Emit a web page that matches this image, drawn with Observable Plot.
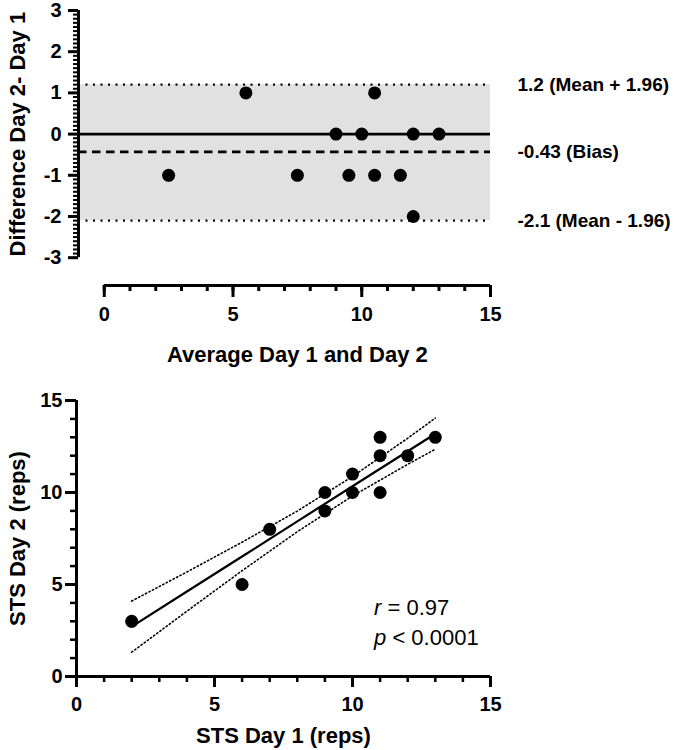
<!DOCTYPE html>
<html>
<head>
<meta charset="utf-8">
<script src="https://cdn.jsdelivr.net/npm/d3@7"></script>
<script src="https://cdn.jsdelivr.net/npm/@observablehq/plot@0.6"></script>
<style>
  html, body { margin: 0; padding: 0; background: #fff; }
  #wrap { width: 680px; }
  svg { display: block; }
</style>
</head>
<body>
<div id="wrap"></div>
<script>
// ---- Bland-Altman data (top) ----
const baAverage    = [2.5, 5.5, 7.5, 9, 9.5, 10, 10.5, 10.5, 11.5, 12, 12, 13];
const baDifference = [-1, 1, -1, 0, -1, 0, 1, -1, -1, 0, -2, 0];
const upperLoA = 1.2;
const biasValue = -0.43;
const lowerLoA = -2.1;
const loaValues = [upperLoA, biasValue, lowerLoA];
const loaLabels = ["1.2 (Mean + 1.96)", "-0.43 (Bias)", "-2.1 (Mean - 1.96)"];
const baXTicks = [0, 5, 10, 15];
const baYTicks = [-3, -2, -1, 0, 1, 2, 3];
const baXTitle = "Average Day 1 and Day 2";
const baYTitle = "Difference Day 2- Day 1";

// ---- Correlation data (bottom) ----
const day1 = [2, 6, 7, 9, 9, 10, 10, 11, 11, 11, 12, 13];
const day2 = [3, 5, 8, 10, 9, 11, 10, 13, 12, 10, 12, 13];
const fitX     = [2, 4, 6, 8, 10, 12, 13];
const fitY     = [2.71, 4.62, 6.52, 8.43, 10.34, 12.24, 13.19];
const ciUpper  = [4.10, 5.68, 7.30, 8.99, 10.87, 12.95, 14.04];
const ciLower  = [1.32, 3.55, 5.75, 7.87, 9.81, 11.53, 12.35];
const scTicks = [0, 5, 10, 15];
const scXTitle = "STS Day 1 (reps)";
const scYTitle = "STS Day 2 (reps)";
const statSymbols = ["r", "p"];
const statRest = [" = 0.97", " < 0.0001"];

const FONT = "'Liberation Sans', Arial, Helvetica, sans-serif";
const intFormat = d => String(d);

// ---------- top chart ----------
const baPoints = baAverage.map((a, i) => ({avg: a, diff: baDifference[i]}));
const baXDomain = [-1, 15];
const baYDomain = [-3.675, 3];
const baYMinor = d3.range(-30, 31).map(v => v / 10);
const baXMinor = d3.range(0, 16);

const topChart = Plot.plot({
  width: 680, height: 375,
  marginLeft: 78, marginRight: 190, marginTop: 10, marginBottom: 90,
  style: {fontFamily: FONT, fontWeight: "bold", color: "#000", background: "#fff"},
  x: {domain: baXDomain},
  y: {domain: baYDomain},
  marks: [
    Plot.rect([{lo: lowerLoA, hi: upperLoA}], {x1: baXDomain[0], x2: baXDomain[1], y1: "lo", y2: "hi", fill: "#e1e1e1"}),
    Plot.ruleY([upperLoA, lowerLoA], {stroke: "#000", strokeWidth: 2.2, strokeDasharray: "2,5.5"}),
    Plot.ruleY([0], {stroke: "#000", strokeWidth: 2.8}),
    Plot.ruleY([biasValue], {stroke: "#000", strokeWidth: 2.8, strokeDasharray: "8.5,5.5"}),
    Plot.dot(baPoints, {x: "avg", y: "diff", r: 6.5, fill: "#000", stroke: null}),
    // y axis
    Plot.ruleX([baXDomain[0]], {y1: baYTicks[0], y2: baYTicks[baYTicks.length - 1], stroke: "#000", strokeWidth: 3}),
    Plot.axisY({ticks: baYMinor, tickSize: 5, strokeWidth: 2, tickFormat: () => "", label: null}),
    Plot.axisY({ticks: baYTicks, tickSize: 10, tickPadding: 7, strokeWidth: 3, tickFormat: intFormat, fontSize: 20, fontWeight: "bold", label: null}),
    // x axis (offset)
    Plot.ruleY([baYDomain[0]], {x1: baXTicks[0], x2: baXTicks[baXTicks.length - 1], stroke: "#000", strokeWidth: 3}),
    Plot.axisX({ticks: baXMinor, tickSize: 6, strokeWidth: 3, tickFormat: () => "", label: null}),
    Plot.axisX({ticks: baXTicks, tickSize: 12, tickPadding: 9, strokeWidth: 3, tickFormat: intFormat, fontSize: 20, fontWeight: "bold", label: null}),
    // titles
    Plot.text([baXTitle], {x: d3.mean(baXTicks), frameAnchor: "bottom", dy: 76, fontSize: 22, fontWeight: "bold", fill: "#000"}),
    Plot.text([baYTitle], {x: baXDomain[0], y: d3.mean(baYTicks), dx: -61, rotate: -90, fontSize: 22, fontWeight: "bold", fill: "#000"}),
    // limit labels
    Plot.text(loaValues, {x: baXDomain[1], y: d => d, dx: 27, text: (d, i) => loaLabels[i], textAnchor: "start", fontSize: 19, fontWeight: "bold", fill: "#000"})
  ]
});

// ---------- bottom chart ----------
const scPoints = day1.map((d, i) => ({d1: d, d2: day2[i]}));
const fitRows = fitX.map((x, i) => ({x, y: fitY[i], up: ciUpper[i], lo: ciLower[i]}));
const scMinor = d3.range(0, 16);

const bottomChart = Plot.plot({
  width: 680, height: 375,
  marginLeft: 76, marginRight: 190, marginTop: 25, marginBottom: 74,
  style: {fontFamily: FONT, fontWeight: "bold", color: "#000", background: "#fff"},
  x: {domain: [scTicks[0], scTicks[scTicks.length - 1]]},
  y: {domain: [scTicks[0], scTicks[scTicks.length - 1]]},
  marks: [
    Plot.line(fitRows, {x: "x", y: "up", stroke: "#000", strokeWidth: 1.6, strokeDasharray: "1.3,2.6"}),
    Plot.line(fitRows, {x: "x", y: "lo", stroke: "#000", strokeWidth: 1.6, strokeDasharray: "1.3,2.6"}),
    Plot.line(fitRows, {x: "x", y: "y", stroke: "#000", strokeWidth: 2.2}),
    Plot.dot(scPoints, {x: "d1", y: "d2", r: 6.5, fill: "#000", stroke: null}),
    // axes
    Plot.ruleX([scTicks[0]], {y1: scTicks[0], y2: scTicks[scTicks.length - 1], stroke: "#000", strokeWidth: 3}),
    Plot.ruleY([scTicks[0]], {x1: scTicks[0], x2: scTicks[scTicks.length - 1], stroke: "#000", strokeWidth: 3}),
    Plot.axisY({ticks: scMinor, tickSize: 6, strokeWidth: 2.5, tickFormat: () => "", label: null}),
    Plot.axisY({ticks: scTicks, tickSize: 11, tickPadding: 3, strokeWidth: 3, tickFormat: intFormat, fontSize: 20, fontWeight: "bold", label: null}),
    Plot.axisX({ticks: scMinor, tickSize: 6, strokeWidth: 2.5, tickFormat: () => "", label: null}),
    Plot.axisX({ticks: scTicks, tickSize: 11, tickPadding: 9, strokeWidth: 3, tickFormat: intFormat, fontSize: 20, fontWeight: "bold", label: null}),
    // titles
    Plot.text([scXTitle], {x: d3.mean(scTicks), frameAnchor: "bottom", dy: 66, fontSize: 22, fontWeight: "bold", fill: "#000"}),
    Plot.text([scYTitle], {x: scTicks[0], y: d3.mean(scTicks), dx: -59, rotate: -90, fontSize: 22, fontWeight: "bold", fill: "#000"}),
    // statistics
    Plot.text(statSymbols, {x: 10.78, y: (d, i) => [3.7, 2.1][i], text: (d, i) => d + statRest[i], textAnchor: "start", fontSize: 22, fontWeight: "normal", fill: "#000"})
  ]
});

// italicise r and p
d3.select(bottomChart).selectAll("text").each(function () {
  const t = this.textContent;
  statSymbols.forEach((s, i) => {
    if (t === s + statRest[i]) {
      const el = d3.select(this);
      el.text(null);
      el.append("tspan").attr("font-style", "italic").text(s);
      el.append("tspan").text(statRest[i]);
    }
  });
});

document.getElementById("wrap").append(topChart, bottomChart);
</script>
</body>
</html>
